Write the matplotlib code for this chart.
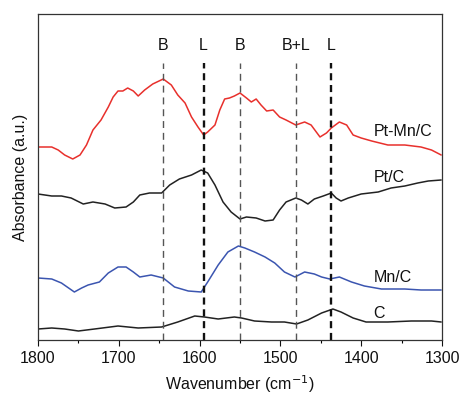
import matplotlib
matplotlib.use("Agg")
import matplotlib.pyplot as plt

plt.rcParams['font.family'] = ['Liberation Sans', 'DejaVu Sans']

# Wavenumber (cm-1) and offset absorbance (a.u.)
wn_ptmn = [1800, 1783, 1775, 1767, 1757, 1748, 1740, 1732, 1722, 1713, 1707, 1701, 1695,
           1689, 1682, 1676, 1668, 1658, 1645, 1635, 1627, 1618, 1610, 1602, 1595, 1590,
           1581, 1575, 1569, 1563, 1557, 1550, 1542, 1536, 1530, 1524, 1517, 1509, 1501,
           1493, 1481, 1470, 1462, 1451, 1443, 1437, 1427, 1418, 1410, 1400, 1387, 1367,
           1346, 1326, 1313, 1301]
ab_ptmn = [193, 193, 190, 185, 181, 185, 195, 210, 220, 233, 243, 249, 249,
           252, 249, 244, 250, 256, 261, 255, 245, 237, 223, 213, 205, 208,
           215, 230, 241, 242, 244, 247, 242, 238, 241, 235, 229, 230, 223,
           220, 215, 218, 215, 203, 207, 212, 218, 215, 205, 202, 199, 195,
           195, 193, 190, 185]

wn_pt = [1800, 1783, 1771, 1759, 1744, 1732, 1717, 1705, 1691, 1682, 1674, 1662, 1647,
         1637, 1625, 1610, 1598, 1590, 1581, 1571, 1561, 1550, 1542, 1530, 1519, 1509,
         1501, 1493, 1481, 1474, 1466, 1458, 1447, 1437, 1431, 1425, 1416, 1400, 1379,
         1363, 1346, 1330, 1317, 1301]
ab_pt = [146, 144, 144, 142, 136, 138, 136, 132, 133, 138, 145, 147, 147,
         155, 161, 165, 170, 167, 155, 138, 128, 121, 123, 122, 119, 120,
         130, 138, 142, 140, 136, 141, 144, 147, 142, 139, 142, 146, 148,
         152, 154, 157, 159, 160]

wn_mn = [1800, 1783, 1771, 1755, 1746, 1738, 1724, 1713, 1701, 1691, 1682, 1674, 1660,
         1645, 1631, 1614, 1598, 1590, 1577, 1565, 1552, 1544, 1532, 1519, 1507, 1495,
         1482, 1470, 1458, 1449, 1439, 1427, 1412, 1396, 1375, 1346, 1326, 1301]
ab_mn = [62, 61, 57, 48, 52, 55, 58, 67, 73, 73, 68, 63, 65,
         62, 53, 49, 48, 58, 75, 88, 94, 92, 88, 83, 77, 68,
         63, 68, 66, 63, 61, 63, 58, 54, 51, 51, 50, 50]

wn_c = [1800, 1783, 1767, 1750, 1730, 1701, 1676, 1647, 1627, 1606, 1594, 1577, 1557,
        1548, 1532, 1511, 1495, 1480, 1466, 1449, 1435, 1425, 1410, 1394, 1367, 1338,
        1313, 1301]
ab_c = [11, 12, 11, 9, 11, 14, 12, 13, 18, 24, 23, 21, 23,
        22, 19, 18, 18, 16, 20, 27, 31, 28, 22, 18, 18, 19,
        19, 18]

# reference band positions
band_pos = [1645, 1595, 1550, 1481, 1437]
band_lab = ['B', 'L', 'B', 'B+L', 'L']

series_names = ['Pt-Mn/C', 'Pt/C', 'Mn/C', 'C']
label_y = [208, 162, 63, 27]

fig = plt.figure(figsize=(4.62, 3.96), dpi=100)
ax = fig.add_axes([38/462, 56/396, 404/462, 326/396])

red = '#e8302c'
blue = '#3b55b0'
blk = '#222222'

kw = dict(lw=1.1, solid_joinstyle='round', solid_capstyle='round')
ax.plot(wn_ptmn, ab_ptmn, color=red, **kw)
ax.plot(wn_pt, ab_pt, color=blk, **kw)
ax.plot(wn_mn, ab_mn, color=blue, **kw)
ax.plot(wn_c, ab_c, color=blk, **kw)

for w, lab in zip(band_pos, band_lab):
    if lab == 'L':
        ax.plot([w, w], [0, 277], color='#111111', lw=1.7, ls=(0, (3, 2)))
    else:
        ax.plot([w, w], [0, 277], color='#555555', lw=1.0, ls=(0, (5, 3.5)))
    ax.text(w, 295, lab, ha='center', va='center', fontsize=11.5, color='#111111')

for name, y in zip(series_names, label_y):
    ax.text(1385, y, name, ha='left', va='center', fontsize=11.5, color='#111111')

ax.set_xlim(1800, 1300)
ax.set_ylim(0, 326)
ax.set_yticks([])
ax.set_xticks([1800, 1700, 1600, 1500, 1400, 1300])
ax.set_xticks([1750, 1650, 1550, 1450, 1350], minor=True)
ax.tick_params(axis='x', which='major', direction='out', length=4, width=0.8,
               labelsize=11.5, pad=4, colors='#111111')
ax.tick_params(axis='x', which='minor', direction='out', length=2.5, width=0.8)
for s in ax.spines.values():
    s.set_color('#333333')
    s.set_linewidth(0.9)

ax.set_xlabel('Wavenumber (cm$^{-1}$)', fontsize=11.5, labelpad=5, color='#111111')
ax.set_ylabel('Absorbance (a.u.)', fontsize=11.5, labelpad=7, color='#111111')

fig.savefig('out.png', dpi=100)
